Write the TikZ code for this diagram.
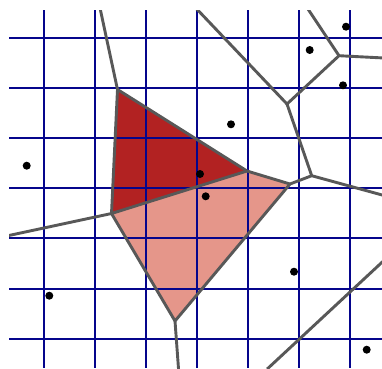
\documentclass[tikz,border=0pt]{standalone}
\begin{document}
\begin{tikzpicture}[x=1pt,y=-1pt,
  gridline/.style={draw={rgb,255:red,5;green,5;blue,140},line width=1.9pt},
  vedge/.style={draw={rgb,255:red,88;green,88;blue,88},line width=2.9pt,line join=round},
  site/.style={circle,fill=black,inner sep=0pt,minimum size=8pt},
  darkcell/.style={fill={rgb,255:red,178;green,34;blue,34}},
  lightcell/.style={fill={rgb,255:red,229;green,150;blue,138}}]
\useasboundingbox (0,0) rectangle (382,368);
\begin{scope}
\clip (9,10) rectangle (382,368);
% Voronoi vertices
\coordinate (A) at (117.5,89.5);
\coordinate (B) at (247,171);
\coordinate (C) at (111.5,213.5);
\coordinate (D) at (290,184);
\coordinate (E) at (175,321);
\coordinate (F) at (311.7,175.7);
\coordinate (G) at (287,104);
\coordinate (H) at (339,55.7);
% free ends
\coordinate (e1) at (100,8);
\coordinate (e2) at (7,235.9);
\coordinate (e3) at (178.6,370);
\coordinate (e4) at (384,195.5);
\coordinate (e5) at (195.8,8);
\coordinate (e6) at (307.3,8);
\coordinate (e7) at (384,58);
\coordinate (e8) at (267.2,369);
\coordinate (e9) at (384,260.4);
% cells
\fill[darkcell] (A) -- (B) -- (C) -- cycle;
\fill[lightcell] (C) -- (B) -- (D) -- (E) -- cycle;
% grid
\foreach \gx in {43.7,95.2,146.2,197,248,298.8,349.7}
  \draw[gridline] (\gx,10) -- (\gx,368);
\foreach \gy in {37.7,88,138.2,188.3,238.3,288.8,339}
  \draw[gridline] (9,\gy) -- (382,\gy);
% edges
\draw[vedge] (A) -- (B) -- (D) -- (E) -- (C) -- cycle;
\draw[vedge] (e1) -- (A);
\draw[vedge] (C) -- (B);
\draw[vedge] (C) -- (e2);
\draw[vedge] (E) -- (e3);
\draw[vedge] (D) -- (F) -- (G) -- (H);
\draw[vedge] (F) -- (e4);
\draw[vedge] (G) -- (e5);
\draw[vedge] (H) -- (e6);
\draw[vedge] (H) -- (e7);
\draw[vedge] (e8) -- (e9);
\end{scope}
% sites
\node[site] (s1) at (26.7,165.7) {};
\node[site] (s2) at (346,26.7) {};
\node[site] (s3) at (309.7,50) {};
\node[site] (s4) at (343,85.3) {};
\node[site] (s5) at (231,124.3) {};
\node[site] (s6) at (200,174) {};
\node[site] (s7) at (205.7,196.3) {};
\node[site] (s8) at (294,271.7) {};
\node[site] (s9) at (366.7,349.7) {};
\node[site] (s10) at (49.3,295.7) {};
\end{tikzpicture}
\end{document}
